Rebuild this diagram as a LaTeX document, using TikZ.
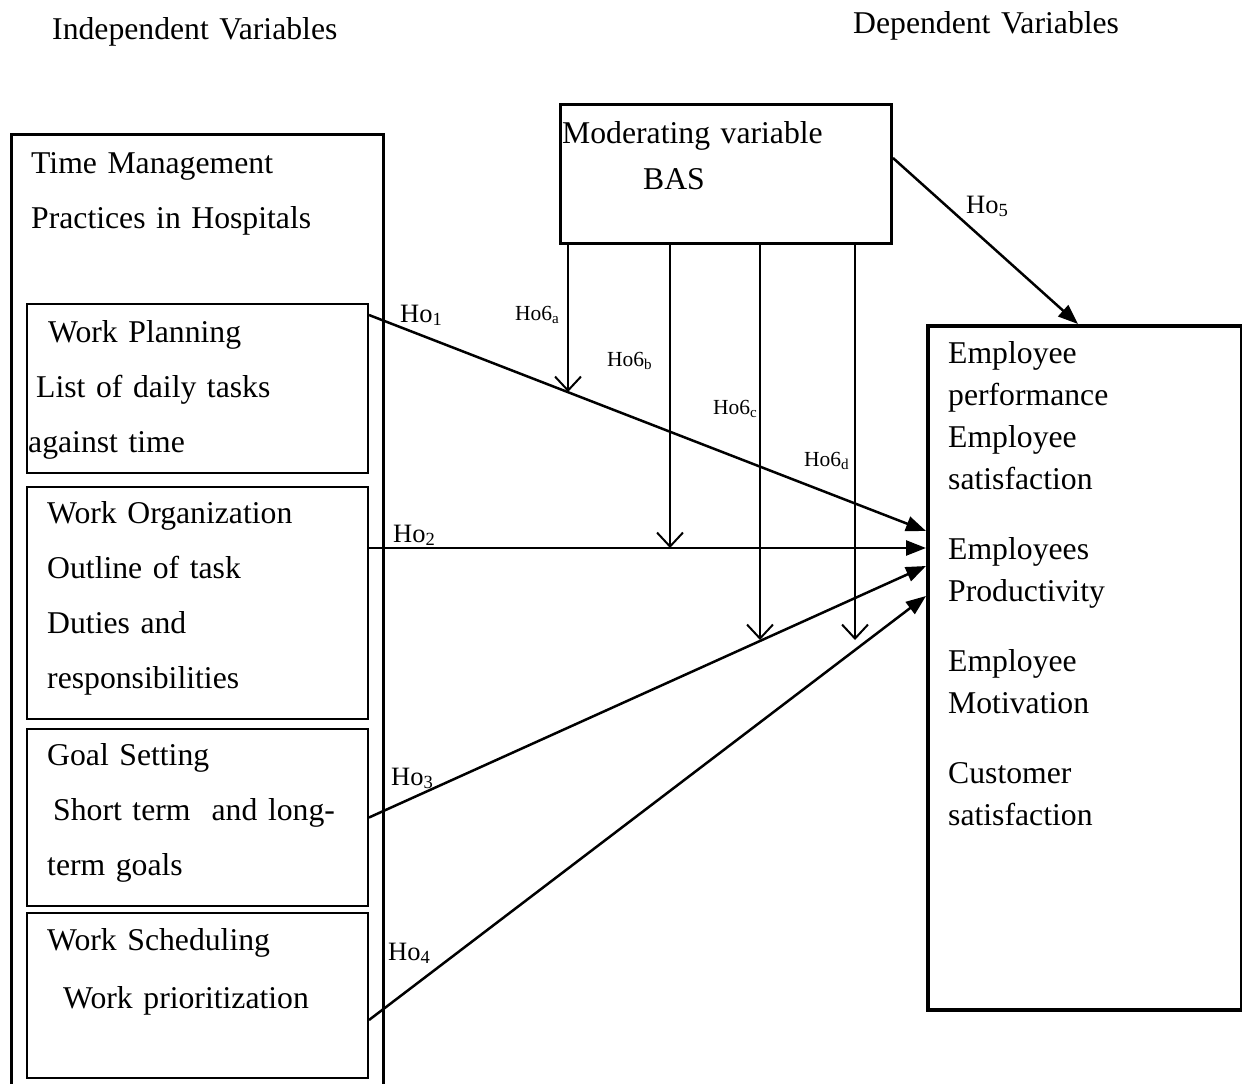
\documentclass[tikz,border=0pt]{standalone}
\usepackage{fontspec}
\setmainfont{Liberation Serif}
\usetikzlibrary{arrows.meta, positioning, calc}

\begin{document}
\begin{tikzpicture}[
  x=1pt, y=-1pt,
  panel/.style = {
    rectangle, draw=black, line width=3pt,
    anchor=north west, inner sep=0pt
  },
  subbox/.style = {
    rectangle, draw=black, line width=2pt,
    anchor=north west, inner sep=0pt,
    minimum width=341pt
  },
  txt/.style = {
    anchor=base west, inner sep=0pt,
    align=left, text width=400pt,
    font=\fontsize{31.7}{55}\selectfont
  },
  hyp/.style = {anchor=base west, inner sep=0pt, font=\fontsize{26.5}{30}\selectfont},
  modlab/.style = {anchor=base west, inner sep=0pt, font=\fontsize{21.5}{24}\selectfont},
  arr/.style = {-{Triangle[length=20pt, width=15pt]}, line width=2.5pt},
  modarr/.style = {-{Straight Barb[length=14pt, width=26pt]}, line width=2pt}
]

\useasboundingbox (0,0) rectangle (1242,1084);
\clip (0,0) rectangle (1242,1084);

% Headings
\node[txt] (indhead) at (52,39) {Independent Variables};
\node[txt] (dephead) at (853,33) {Dependent Variables};

% Independent variables
\node[panel, minimum width=372pt, minimum height=1000pt] (indep) at (10,133) {};
\node[txt] (indepT) at (31,173) {Time Management\\Practices in Hospitals};

\node[subbox, minimum height=169pt] (plan)  at (26,303) {};
\node[subbox, minimum height=232pt] (org)   at (26,486) {};
\node[subbox, minimum height=177pt] (goal)  at (26,728) {};
\node[subbox, minimum height=165pt] (sched) at (26,912) {};

\node[txt] (planT)  at (28,342) {\hspace*{20pt}Work Planning\\\hspace*{8pt}List of daily tasks\\against time};
\node[txt] (orgT)   at (47,523) {Work Organization\\Outline of task\\Duties and\\responsibilities};
\node[txt] (goalT)  at (47,765) {Goal Setting\\\hspace*{6pt}Short term\ \ and long-\\term goals};
\node[txt] (schedT) at (47,950) {Work Scheduling\\[3pt]\hspace*{16pt}Work prioritization};

% Moderating variable
\node[panel, minimum width=331pt, minimum height=139pt] (mod) at (559,103) {};
\node[txt] (modT) at (562,143) {Moderating variable\\[-9pt]\hspace*{81pt}BAS};

% Dependent variables
\node[panel, line width=3.5pt, minimum width=314pt, minimum height=684pt] (dep) at (926,324) {};
\node[txt, font=\fontsize{31.7}{42}\selectfont] (depT) at (948,363)
  {Employee\\performance\\Employee\\satisfaction\\[28pt]Employees\\Productivity\\[28pt]Employee\\Motivation\\[28pt]Customer\\satisfaction};

% Arrow ends
\coordinate (t1) at (926,531);
\coordinate (t2) at (926,548);
\coordinate (t3) at (926,566);
\coordinate (t4) at (926,596);
\coordinate (ma) at (568,392);
\coordinate (mb) at (670,548);
\coordinate (mc) at (760,640);
\coordinate (md) at (855,640);

% Direct effects
\draw[arr] ($(plan.north east)+(0,12)$) -- (t1);
\draw[arr] (org.east |- t2) -- (t2);
\draw[arr] (goal.east) -- (t3);
\draw[arr] ($(sched.south east)+(0,-59)$) -- (t4);
\draw[arr] ($(mod.north east)+(0,55)$) -- (1078,0 |- dep.north);

% Moderating effects
\draw[modarr] (ma |- mod.south) -- (ma);
\draw[modarr] (mb |- mod.south) -- (mb);
\draw[modarr] (mc |- mod.south) -- (mc);
\draw[modarr] (md |- mod.south) -- (md);

% Labels
\node[hyp] (h1) at (400,322) {Ho\textsubscript{1}};
\node[hyp] (h2) at (393,542) {Ho\textsubscript{2}};
\node[hyp] (h3) at (391,785) {Ho\textsubscript{3}};
\node[hyp] (h4) at (388,960) {Ho\textsubscript{4}};
\node[hyp] (h5) at (966,213) {Ho\textsubscript{5}};
\node[modlab] (h6a) at (515,320) {Ho6\textsubscript{a}};
\node[modlab] (h6b) at (607,366) {Ho6\textsubscript{b}};
\node[modlab] (h6c) at (713,414) {Ho6\textsubscript{c}};
\node[modlab] (h6d) at (804,466) {Ho6\textsubscript{d}};
\end{tikzpicture}
\end{document}
